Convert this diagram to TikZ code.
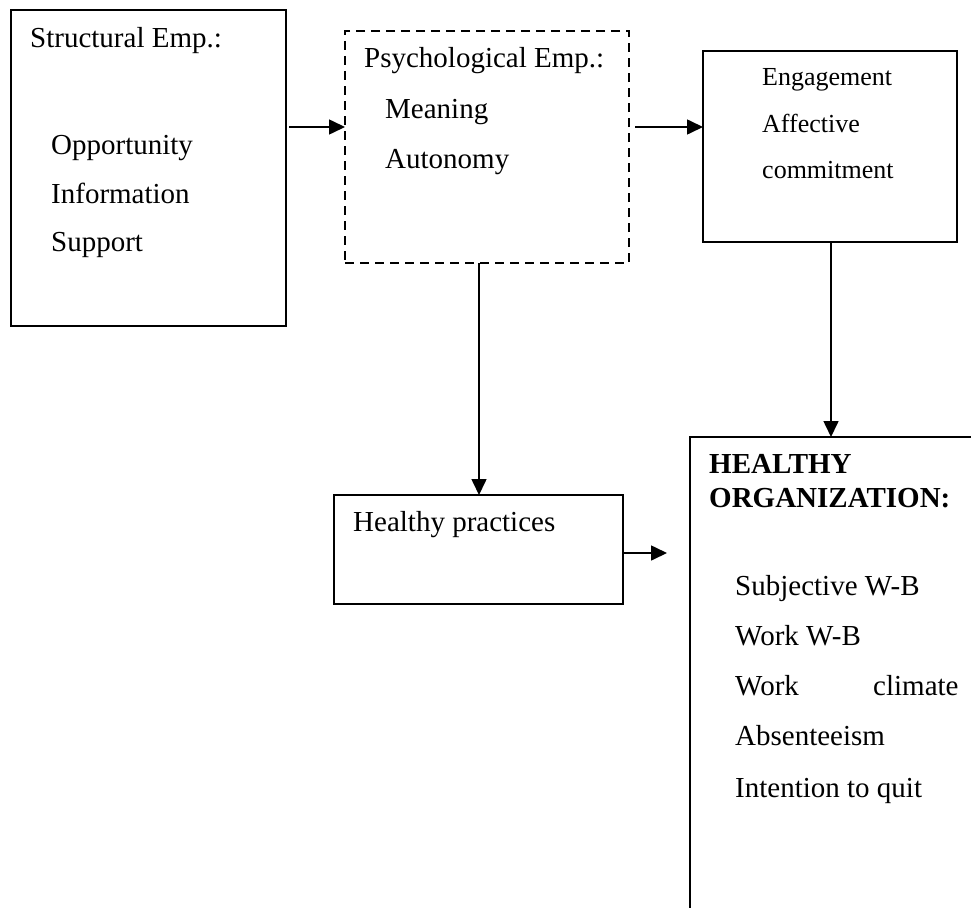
\documentclass[tikz,border=0pt]{standalone}
\usepackage{fontspec}
\setmainfont{Liberation Serif}
\usetikzlibrary{arrows.meta}
\begin{document}
\begin{tikzpicture}[x=1pt,y=-1pt,
  box/.style={draw,line width=1.6pt,anchor=north west,inner sep=0pt,outer sep=0pt},
  dbox/.style={box,dash pattern=on 9pt off 6pt},
  txt/.style={anchor=base west,inner sep=0pt,font=\fontsize{29}{34}\selectfont},
  stxt/.style={anchor=base west,inner sep=0pt,font=\fontsize{26}{30}\selectfont},
  btxt/.style={anchor=base west,inner sep=0pt,font=\fontsize{29}{34}\selectfont\bfseries},
  arr/.style={line width=1.6pt,-{Triangle[length=16pt,width=15pt]}}]
\useasboundingbox (0,0) rectangle (971,907);
\clip (0,0) rectangle (971,907);
% boxes
\node[box,minimum width=275pt,minimum height=316pt] (b1) at (11,10) {};
\node[dbox,minimum width=284pt,minimum height=232pt] (b2) at (345,31) {};
\node[box,minimum width=254pt,minimum height=191pt] (b3) at (703,51) {};
\node[box,minimum width=289pt,minimum height=109pt] (b5) at (334,495) {};
\node[box,minimum width=400pt,minimum height=600pt] (b4) at (690,437) {};
% texts
\node[txt] (t1) at (30,48) {Structural Emp.:};
\node[txt] (t2) at (51,154) {Opportunity};
\node[txt] (t3) at (51,203) {Information};
\node[txt] (t4) at (51,251) {Support};
\node[txt] (p1) at (364,67) {Psychological Emp.:};
\node[txt] (p2) at (385,118) {Meaning};
\node[txt] (p3) at (385,168) {Autonomy};
\node[stxt] (e1) at (762,85) {Engagement};
\node[stxt] (e2) at (762,132) {Affective};
\node[stxt] (e3) at (762,178) {commitment};
\node[txt] (h1) at (353,531) {Healthy practices};
\node[btxt] (o1) at (709,473) {HEALTHY};
\node[btxt] (o2) at (709,507) {ORGANIZATION:};
\node[txt] (o3) at (735,595) {Subjective W-B};
\node[txt] (o4) at (735,645) {Work W-B};
\node[txt] (o5) at (735,695) {Work};
\node[txt] (o5b) at (873,695) {climate};
\node[txt] (o6) at (735,745) {Absenteeism};
\node[txt] (o7) at (735,797) {Intention to quit};
% connectors
\coordinate (a1) at (289,127);
\coordinate (a2) at (635,127);
\coordinate (a3) at (831,242);
\coordinate (a4) at (479,263);
\coordinate (a5) at (623,553);
\coordinate (a5e) at (667,553);
\draw[arr] (a1) -- (b2.west |- a1);
\draw[arr] (a2) -- (b3.west |- a2);
\draw[arr] (a3) -- (b4.north -| a3);
\draw[arr] (a4) -- (b5.north -| a4);
\draw[arr] (a5) -- (a5e);
\end{tikzpicture}
\end{document}
